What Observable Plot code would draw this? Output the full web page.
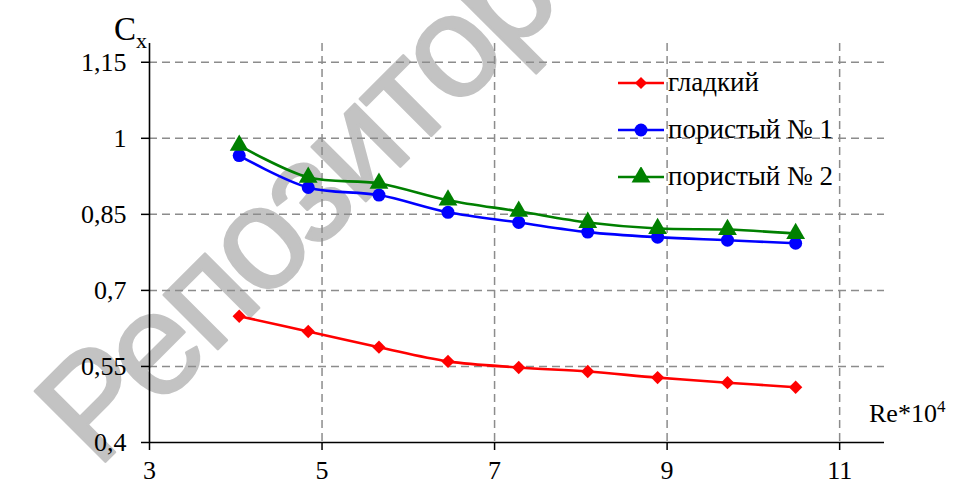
<!DOCTYPE html>
<html><head><meta charset="utf-8">
<script src="https://cdn.jsdelivr.net/npm/d3@7"></script>
<script src="https://cdn.jsdelivr.net/npm/@observablehq/plot@0.6"></script>
<style>
body{margin:0;background:#fff;}
#wrap{position:relative;width:954px;height:485px;overflow:hidden;font-family:"Liberation Serif",serif;color:#000;}
#wm{position:absolute;left:0;top:0;z-index:0;}
#chart{position:absolute;left:0;top:0;z-index:1;}
#chart svg text{font-family:"Liberation Serif",serif !important;}
.lbl{position:absolute;z-index:2;white-space:nowrap;font-family:"Liberation Serif",serif;line-height:1;}
#legend{position:absolute;left:618px;top:59px;z-index:2;font-size:27px;font-family:"Liberation Serif",serif;}
#legend .row{height:47px;display:flex;align-items:center;}
#legend svg{margin-right:4px;}
</style></head><body>
<div id="wrap">
  <svg id="wm" width="954" height="485"><text x="97" y="470" transform="rotate(-45,97,470)" font-family="Liberation Sans, sans-serif" font-size="145" letter-spacing="-5" fill="#c3c3c3" stroke="#c3c3c3" stroke-width="2.5" stroke-linejoin="round">Репозиторий</text></svg>
  <div id="chart"></div>
  <div class="lbl" style="left:114px;top:13px;font-size:33px;">C<span style="font-size:22px;position:relative;top:8px;">x</span></div>
  <div class="lbl" style="left:869px;top:401px;font-size:26px;">Re*10<span style="font-size:17px;position:relative;top:-10px;">4</span></div>
  <div id="legend"></div>
</div>
<script>
const re = [4.04, 4.84, 5.66, 6.46, 7.28, 8.08, 8.89, 9.70, 10.49];
const smooth  = [0.649, 0.619, 0.588, 0.560, 0.548, 0.540, 0.528, 0.518, 0.509];
const porous1 = [0.966, 0.903, 0.888, 0.854, 0.834, 0.815, 0.805, 0.799, 0.793];
const porous2 = [0.986, 0.923, 0.911, 0.878, 0.856, 0.834, 0.822, 0.820, 0.812];
const seriesNames = ["гладкий", "пористый № 1", "пористый № 2"];
const seriesColors = ["#ff0000", "#0000ff", "#008000"];
const seriesSymbols = ["diamond2", "circle", "triangle"];
const seriesR = [6, 6.5, 7];
const xTicks = [3, 5, 7, 9, 11];
const yTicks = [0.4, 0.55, 0.7, 0.85, 1, 1.15];

const values = [smooth, porous1, porous2];
const data = [];
seriesNames.forEach((s, i) => re.forEach((x, j) => data.push({series: s, x, y: values[i][j]})));

const gridStyle = {stroke: "#8c8c8c", strokeOpacity: 1, strokeWidth: 1.5, strokeDasharray: "8,5"};

const chart = Plot.plot({
  width: 954, height: 485,
  marginLeft: 149, marginRight: 70, marginTop: 43, marginBottom: 43,
  style: {fontFamily: "Liberation Serif, serif", fontSize: "26px", background: "transparent", color: "#000", overflow: "visible"},
  x: {domain: [3, 11.52]},
  y: {domain: [0.4, 1.187]},
  color: {domain: seriesNames, range: seriesColors},
  symbol: {domain: seriesNames, range: seriesSymbols},
  marks: [
    Plot.gridX(xTicks.slice(1), gridStyle),
    Plot.gridY(yTicks.slice(1), gridStyle),
    Plot.axisX(xTicks, {tickSize: 8, tickPadding: 10, label: null, strokeWidth: 1.5, fontSize: 26, tickFormat: d => String(d)}),
    Plot.axisY(yTicks, {tickSize: 8, tickPadding: 15, label: null, strokeWidth: 1.5, fontSize: 26, tickFormat: d => String(d).replace(".", ",")}),
    Plot.ruleX([3], {stroke: "#000", strokeWidth: 1.6}),
    Plot.ruleY([0.4], {stroke: "#000", strokeWidth: 1.6}),
    Plot.line(data, {x: "x", y: "y", z: "series", stroke: "series", strokeWidth: 2.6, curve: "catmull-rom"}),
    ...seriesNames.map((s, i) => Plot.dot(data.filter(d => d.series === s), {x: "x", y: "y", fill: "series", symbol: "series", r: seriesR[i], stroke: "none"}))
  ]
});
document.getElementById("chart").appendChild(chart);

const legend = document.getElementById("legend");
const sym = {diamond2: d3.symbolDiamond2, circle: d3.symbolCircle, triangle: d3.symbolTriangle};
seriesNames.forEach((s, i) => {
  const row = document.createElement("div");
  row.className = "row";
  const r = seriesR[i];
  const area = seriesSymbols[i] === "diamond2" ? 2*r*r*1.3 : Math.PI * r * r;
  const path = d3.symbol(sym[seriesSymbols[i]], area)();
  row.innerHTML = `<svg width="46" height="20"><line x1="0" x2="46" y1="10" y2="10" stroke="${seriesColors[i]}" stroke-width="2.6"/><path transform="translate(23,10)" d="${path}" fill="${seriesColors[i]}"/></svg><span>${s}</span>`;
  legend.appendChild(row);
});
</script>
</body></html>
